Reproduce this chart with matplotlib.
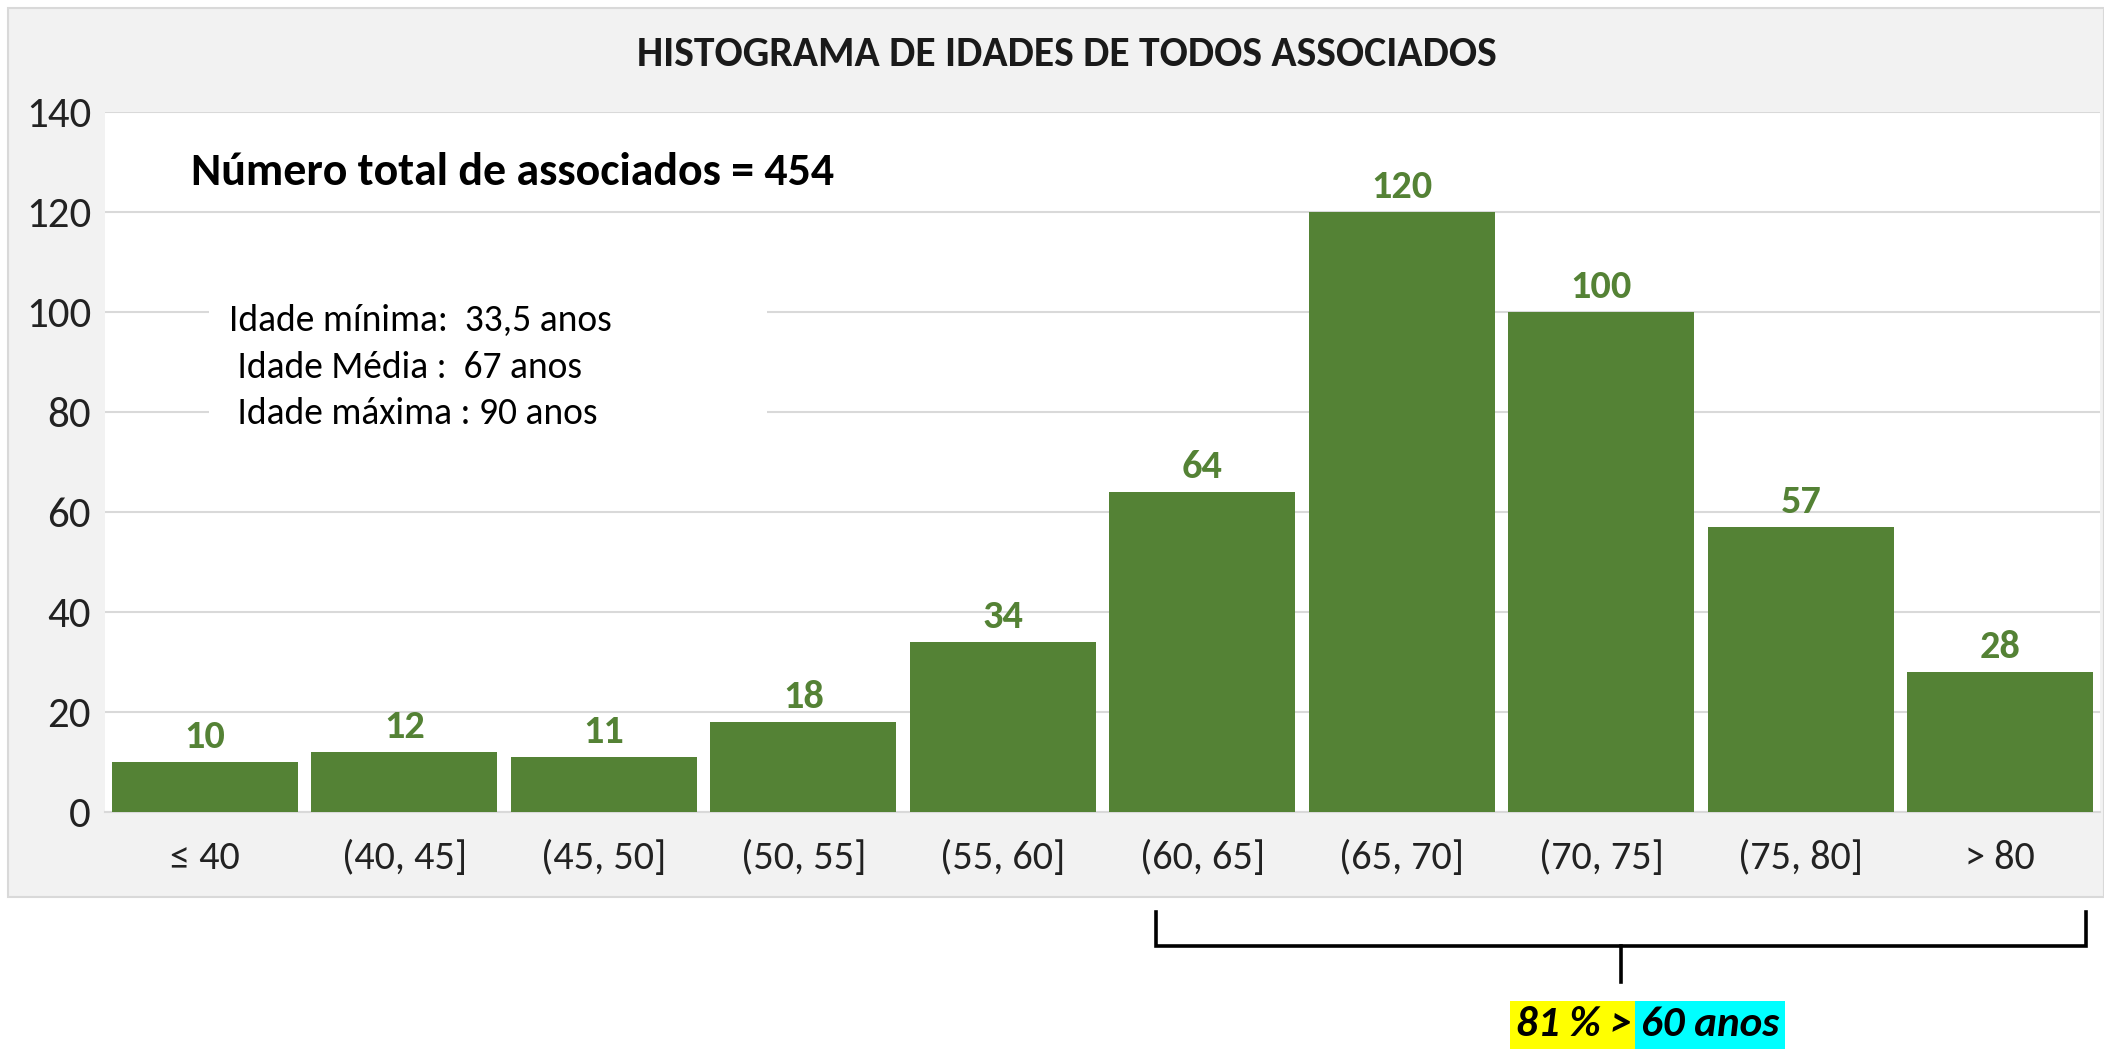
import matplotlib
matplotlib.use("Agg")
import matplotlib.pyplot as plt
from matplotlib import font_manager
from matplotlib.patches import Rectangle
import matplotlib.transforms as mtransforms

# data
categorias = ["≤ 40", "(40, 45]", "(45, 50]", "(50, 55]", "(55, 60]",
              "(60, 65]", "(65, 70]", "(70, 75]", "(75, 80]", "> 80"]
contagens = [10, 12, 11, 18, 34, 64, 120, 100, 57, 28]
total = 454
estatisticas = ["Idade mínima:  33,5 anos", " Idade Média :  67 anos", " Idade máxima : 90 anos"]
pct_acima_60 = 81

disponiveis = {f.name for f in font_manager.fontManager.ttflist}
fonte = "Carlito" if "Carlito" in disponiveis else "Liberation Sans"
plt.rcParams['font.family'] = [fonte, 'DejaVu Sans']

verde = "#548235"

fig = plt.figure(figsize=(21.04, 10.51), dpi=100)
fig.patch.set_facecolor("white")

# gray chart panel (behind the axes)
fig.patches.append(Rectangle((8 / 2104, 1 - 897 / 1051), 1 - 8 / 2104, 889 / 1051,
                             transform=fig.transFigure, facecolor="#f2f2f2",
                             edgecolor="#d9d9d9", linewidth=1.5, zorder=-5))

ax = fig.add_axes([105 / 2104, 1 - 812 / 1051, 1995 / 2104, 700 / 1051])
ax.set_zorder(1)
ax.set_facecolor("white")

x = range(len(categorias))
barras = ax.bar(x, contagens, width=0.93, color=verde, zorder=3)
for b, v in zip(barras, contagens):
    ax.annotate(str(v), (b.get_x() + b.get_width() / 2, v), xytext=(0, 6),
                textcoords="offset points", ha="center", va="bottom",
                fontsize=29, fontweight="bold", color=verde)

ax.set_xlim(-0.5, len(categorias) - 0.5)
ax.set_ylim(0, 140)
ax.set_yticks(range(0, 141, 20))
ax.set_xticks(list(x))
ax.set_xticklabels(categorias)
ax.tick_params(axis="both", length=0, colors="#222222")
ax.tick_params(axis="x", pad=20, labelsize=29)
ax.tick_params(axis="y", pad=10, labelsize=31)
ax.grid(axis="y", color="#d9d9d9", linewidth=1.5, zorder=0)
for s in ["top", "right", "left"]:
    ax.spines[s].set_visible(False)
ax.spines["bottom"].set_color("#d9d9d9")
ax.spines["bottom"].set_linewidth(1.5)

fig.text(1067 / 2104, 1 - 54 / 1051, "HISTOGRAMA DE IDADES DE TODOS ASSOCIADOS",
         ha="center", va="center", fontsize=30, fontweight="bold", color="#1a1a1a")

ax.text(-0.07, 128, f"Número total de associados = {total}", ha="left", va="center",
        fontsize=33, fontweight="bold", color="black", zorder=5)

# white text box with the age stats (hides the gridlines behind it)
ax.add_patch(Rectangle((0.02, 74), 2.8, 30, facecolor="white", edgecolor="none", zorder=4))
ax.text(0.12, 89, "\n".join(estatisticas), ha="left", va="center", fontsize=27,
        linespacing=1.5, color="black", zorder=5)

# bracket below the axis for the > 60 group
tr = mtransforms.blended_transform_factory(ax.transData, fig.transFigure)
xl, xr = 4.77, 9.43
xc = (xl + xr) / 2
y_top, y_mid, y_bot = 1 - 912 / 1051, 1 - 946 / 1051, 1 - 982 / 1051
ax.plot([xl, xl, xr, xr], [y_top, y_mid, y_mid, y_top], transform=tr,
        color="black", linewidth=2.6, clip_on=False, solid_joinstyle="miter")
ax.plot([xc, xc], [y_mid, y_bot], transform=tr, color="black", linewidth=2.6, clip_on=False)

fig.text(1641 / 2104, 1 - 1025 / 1051, f"{pct_acima_60} % > ", ha="right", va="center",
         fontsize=31, fontweight="bold", fontstyle="italic",
         bbox=dict(facecolor="yellow", edgecolor="none", pad=4))
fig.text(1641 / 2104, 1 - 1025 / 1051, "60 anos", ha="left", va="center",
         fontsize=31, fontweight="bold", fontstyle="italic",
         bbox=dict(facecolor="cyan", edgecolor="none", pad=4))

fig.savefig("out.png", dpi=100)
